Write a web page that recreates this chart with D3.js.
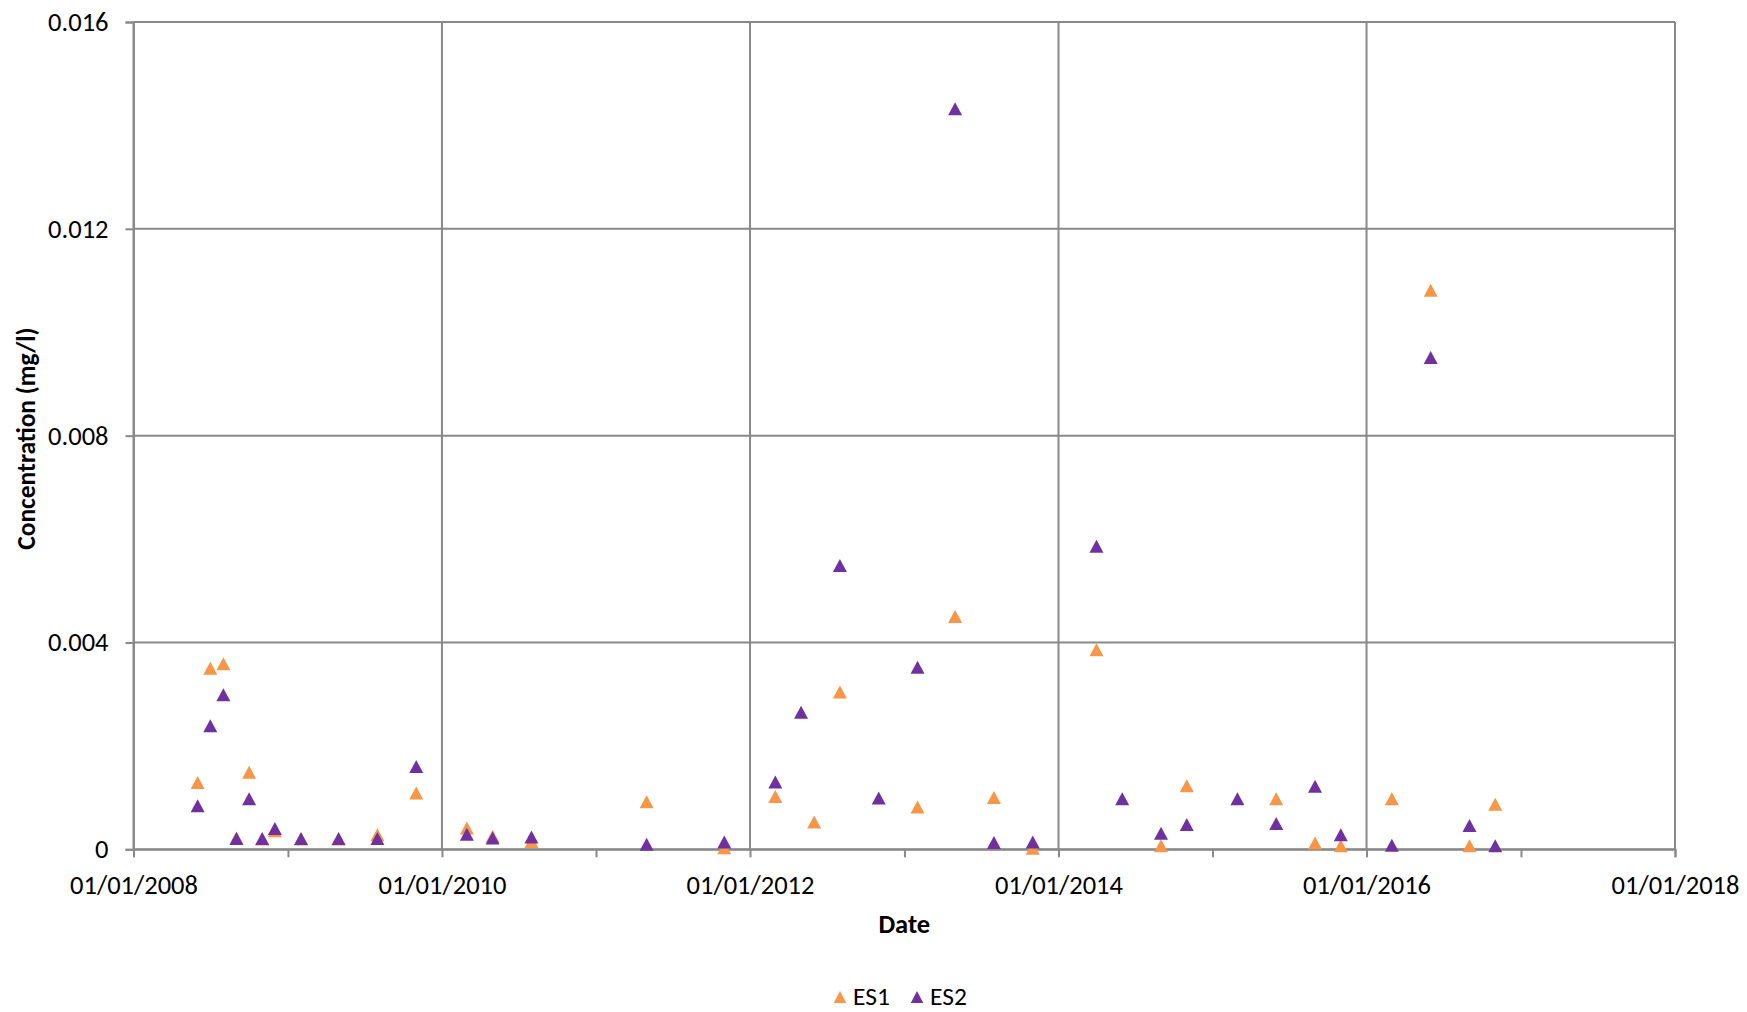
<!DOCTYPE html>
<html>
<head>
<meta charset="utf-8">
<script src="https://cdn.jsdelivr.net/npm/d3@7"></script>
<style>
  body { margin: 0; background: #fff; }
  svg { display: block; font-family: Carlito, Calibri, Lato, sans-serif; }
</style>
</head>
<body>
<svg id="chart"></svg>
<script>
// ES1 samples (date, mg/l)
const es1Dates = ['2008-06-01', '2008-07-01', '2008-08-01', '2008-09-01', '2008-10-01', '2008-11-01',
  '2008-12-01', '2009-02-01', '2009-05-01', '2009-08-01', '2009-11-01', '2010-03-01', '2010-05-01',
  '2010-08-01', '2011-05-01', '2011-11-01', '2012-03-01', '2012-06-01', '2012-08-01', '2013-02-01',
  '2013-05-01', '2013-08-01', '2013-11-01', '2014-04-01', '2014-09-01', '2014-11-01', '2015-06-01',
  '2015-09-01', '2015-11-01', '2016-03-01', '2016-06-01', '2016-09-01', '2016-11-01'];
const es1Values = [0.00129, 0.00350, 0.00359, 0.00022, 0.00149, 0.00020,
  0.00036, 0.00020, 0.00020, 0.00028, 0.00109, 0.00041, 0.00025,
  0.00015, 0.00092, 0.00003, 0.00102, 0.00053, 0.00304, 0.00082,
  0.00450, 0.00100, 0.00002, 0.00386, 0.00007, 0.00123, 0.00098,
  0.00012, 0.00007, 0.00098, 0.01081, 0.00007, 0.00087];

// ES2 samples
const es2Dates = ['2008-06-01', '2008-07-01', '2008-08-01', '2008-09-01', '2008-10-01', '2008-11-01',
  '2008-12-01', '2009-02-01', '2009-05-01', '2009-08-01', '2009-11-01', '2010-03-01', '2010-05-01',
  '2010-08-01', '2011-05-01', '2011-11-01', '2012-03-01', '2012-05-01', '2012-08-01', '2012-11-01',
  '2013-02-01', '2013-05-01', '2013-08-01', '2013-11-01', '2014-04-01', '2014-06-01', '2014-09-01',
  '2014-11-01', '2015-03-01', '2015-06-01', '2015-09-01', '2015-11-01', '2016-03-01', '2016-06-01',
  '2016-09-01', '2016-11-01'];
const es2Values = [0.00084, 0.00239, 0.00299, 0.00021, 0.00098, 0.00021,
  0.00040, 0.00021, 0.00021, 0.00021, 0.00160, 0.00029, 0.00022,
  0.00024, 0.00010, 0.00014, 0.00130, 0.00265, 0.00549, 0.00099,
  0.00352, 0.01432, 0.00013, 0.00014, 0.00586, 0.00098, 0.00031,
  0.00048, 0.00098, 0.00050, 0.00122, 0.00028, 0.00008, 0.00951,
  0.00046, 0.00007];

const yTicks = [0, 0.004, 0.008, 0.012, 0.016];
const seriesNames = ['ES1', 'ES2'];
const colors = ['#F79646', '#7030A0'];

const width = 1747;
const height = 1012;
const margin = { top: 22, right: 72, bottom: 163, left: 133.5 };
const parse = d3.timeParse('%Y-%m-%d');

const svg = d3.select('#chart').attr('width', width).attr('height', height);

const x = d3.scaleTime()
  .domain([parse('2008-01-01'), parse('2018-01-01')])
  .range([margin.left, width - margin.right]);
const y = d3.scaleLinear()
  .domain([0, 0.016])
  .range([height - margin.bottom + 0.3, margin.top]);

const gridColor = '#898989';
const fontSize = 26.5;
const font = 'Carlito, Calibri, Lato, sans-serif';

// gridlines
const grid = svg.append('g');
grid.selectAll('line.h')
  .data(yTicks)
  .join('line')
  .attr('class', 'h')
  .attr('x1', x.range()[0]).attr('x2', x.range()[1])
  .attr('y1', d => y(d)).attr('y2', d => y(d))
  .attr('stroke', gridColor).attr('stroke-width', 2);

const evenYears = d3.timeYear.range(parse('2008-01-01'), parse('2018-01-02'), 2);
grid.selectAll('line.v')
  .data(evenYears)
  .join('line')
  .attr('class', 'v')
  .attr('x1', d => x(d)).attr('x2', d => x(d))
  .attr('y1', y.range()[1]).attr('y2', y.range()[0])
  .attr('stroke', gridColor).attr('stroke-width', 2);

// y axis
const yAxis = svg.append('g')
  .attr('transform', `translate(${margin.left},0)`)
  .call(d3.axisLeft(y).tickValues(yTicks).tickSize(8).tickPadding(17)
    .tickFormat(d => d === 0 ? '0' : d.toFixed(3)));
yAxis.select('.domain').attr('stroke', gridColor).attr('stroke-width', 2);
yAxis.selectAll('.tick line').attr('stroke', gridColor).attr('stroke-width', 2);
yAxis.selectAll('text').attr('font-size', fontSize).attr('fill', '#000')
  .attr('font-family', font);

// x axis
const fmt = d3.timeFormat('%d/%m/%Y');
const xAxis = svg.append('g')
  .attr('transform', `translate(0,${y(0)})`)
  .call(d3.axisBottom(x).ticks(d3.timeYear.every(1)).tickSize(8)
    .tickFormat(d => d.getFullYear() % 2 === 0 ? fmt(d) : ''));
xAxis.select('.domain').attr('stroke', gridColor).attr('stroke-width', 2);
xAxis.selectAll('.tick line').attr('stroke', gridColor).attr('stroke-width', 2);
xAxis.selectAll('text').attr('font-size', fontSize).attr('fill', '#000')
  .attr('font-family', font)
  .attr('y', 35.5).attr('dy', '0.35em');

// axis titles
svg.append('text')
  .attr('x', (x.range()[0] + x.range()[1]) / 2)
  .attr('y', 924)
  .attr('dy', '0.35em')
  .attr('text-anchor', 'middle')
  .attr('font-size', fontSize)
  .attr('font-weight', 'bold')
  .text('Date');

svg.append('text')
  .attr('transform', `translate(26,${(y.range()[0] + y.range()[1]) / 2 + 3}) rotate(-90)`)
  .attr('dy', '0.35em')
  .attr('text-anchor', 'middle')
  .attr('font-size', 25.5)
  .attr('font-weight', 'bold')
  .text('Concentration (mg/l)');

// triangle marker
const tri = (w, h) => `M0,${-h / 2}L${w / 2},${h / 2}L${-w / 2},${h / 2}Z`;

const series = [
  es1Dates.map((d, i) => ({ date: parse(d), value: es1Values[i] })),
  es2Dates.map((d, i) => ({ date: parse(d), value: es2Values[i] })),
];

series.forEach((data, i) => {
  svg.append('g')
    .selectAll('path')
    .data(data)
    .join('path')
    .attr('d', tri(14, 13))
    .attr('transform', d => `translate(${x(d.date)},${y(d.value)})`)
    .attr('fill', colors[i]);
});

// legend
const legend = svg.append('g').attr('transform', 'translate(840,997)');
const legendItems = legend.selectAll('g')
  .data(seriesNames)
  .join('g')
  .attr('transform', (d, i) => `translate(${i * 77},0)`);
legendItems.append('path')
  .attr('d', tri(12.5, 12))
  .attr('fill', (d, i) => colors[i]);
legendItems.append('text')
  .attr('x', 13)
  .attr('dy', '0.33em')
  .attr('font-size', 25.5)
  .text(d => d);
</script>
</body>
</html>
